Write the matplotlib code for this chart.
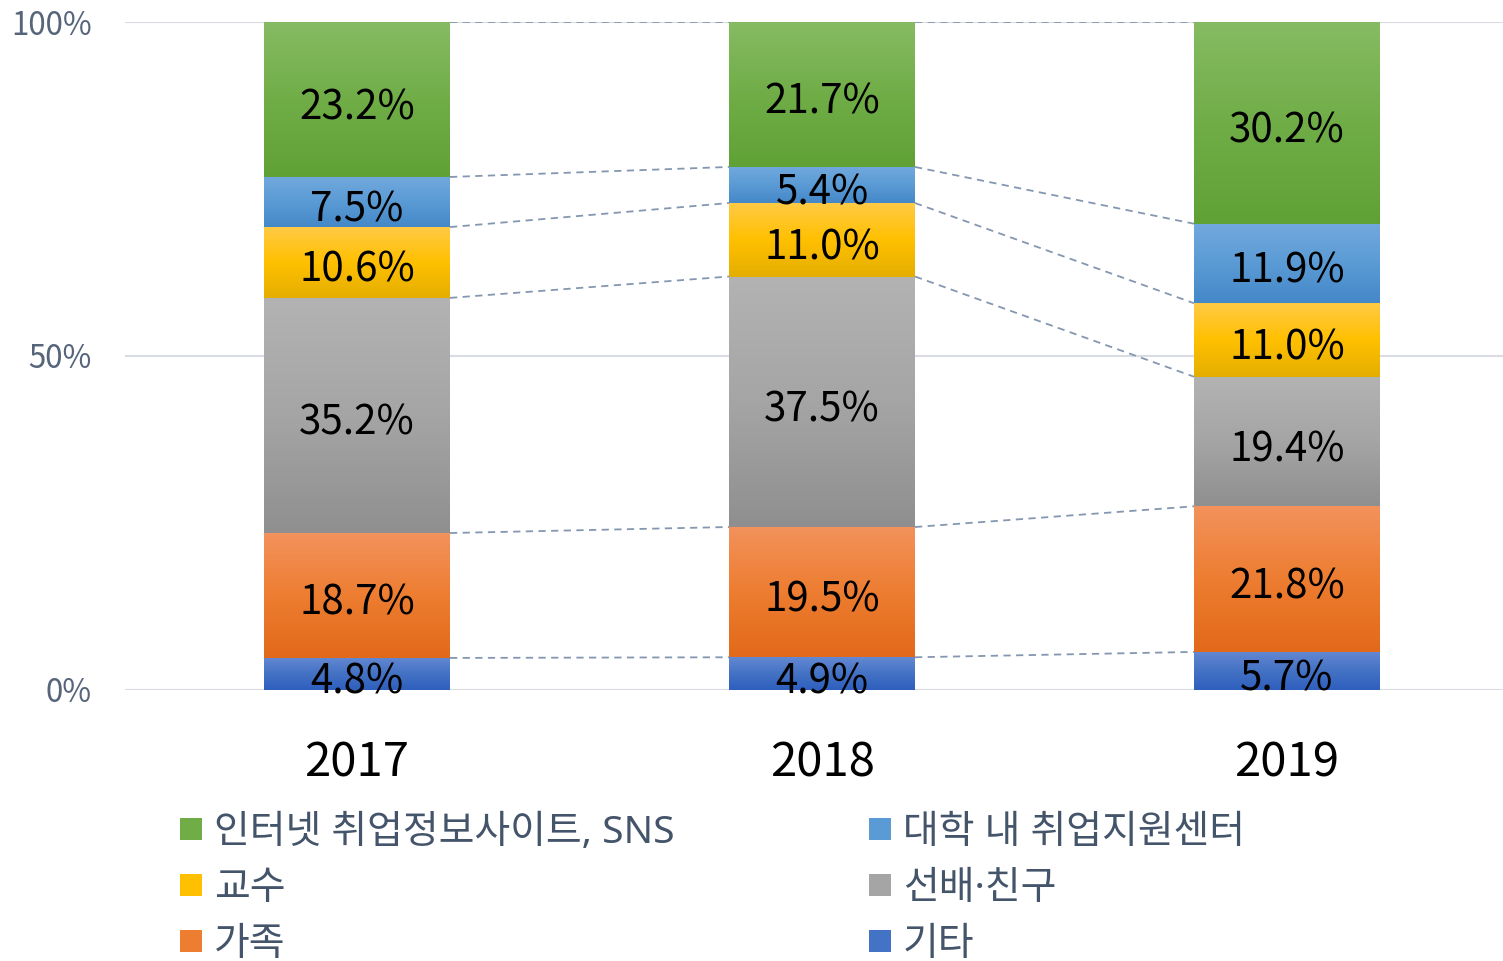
import matplotlib
matplotlib.use("Agg")
import matplotlib.pyplot as plt
import numpy as np
from matplotlib.colors import LinearSegmentedColormap
from matplotlib.patches import Rectangle

plt.rcParams['font.family'] = ['Noto Sans CJK KR', 'DejaVu Sans']

# ---- data ----
years = ['2017', '2018', '2019']
series_names = ['기타', '가족', '선배·친구', '교수', '대학 내 취업지원센터', '인터넷 취업정보사이트, SNS']
etc_vals = [4.8, 4.9, 5.7]
family_vals = [18.7, 19.5, 21.8]
senior_vals = [35.2, 37.5, 19.4]
prof_vals = [10.6, 11.0, 11.0]
center_vals = [7.5, 5.4, 11.9]
internet_vals = [23.2, 21.7, 30.2]
yticks = [0, 50, 100]
ytick_labels = ['0%', '50%', '100%']

series_vals = [etc_vals, family_vals, senior_vals, prof_vals, center_vals, internet_vals]
# gradient stops (top, middle, bottom)
grad_colors = [
    ('#6488d3', '#4472c4', '#2e5fbe'),
    ('#f3925c', '#ed7d31', '#e2691a'),
    ('#b3b3b3', '#a5a5a5', '#8f8f8f'),
    ('#ffca45', '#ffc000', '#e4ae00'),
    ('#72a9de', '#5b9bd5', '#4488c8'),
    ('#86bb63', '#70ad47', '#60a135'),
]

W, H = 1503, 961
fig = plt.figure(figsize=(W / 100, H / 100), dpi=100)
ax = fig.add_axes([124.5 / W, (H - 690) / H, 1395 / W, 668 / H])

x = np.arange(len(years))
bar_w = 0.40
grad = np.linspace(0, 1, 256).reshape(-1, 1)

bottoms = np.zeros(len(years))
tops_list = []
for vals, cols in zip(series_vals, grad_colors):
    vals = np.array(vals)
    bars = ax.bar(x, vals, bar_w, bottom=bottoms, color=cols[1], zorder=2, linewidth=0)
    cmap = LinearSegmentedColormap.from_list('g', [cols[0], cols[1], cols[2]])
    for rect in bars:
        x0, y0 = rect.get_x(), rect.get_y()
        im = ax.imshow(grad, extent=(x0, x0 + rect.get_width(), y0, y0 + rect.get_height()),
                       cmap=cmap, aspect='auto', zorder=3, interpolation='bilinear',
                       origin='upper')
        im.set_clip_path(rect)
    for xi, b, v in zip(x, bottoms, vals):
        ax.text(xi, b + v / 2 - 1.2, f'{v:.1f}%', ha='center', va='center',
                fontsize=29, color='black', zorder=5)
    bottoms = bottoms + vals
    tops_list.append(bottoms.copy())

# connector lines
for tops in tops_list:
    for i in range(len(years) - 1):
        ax.plot([x[i] + bar_w / 2, x[i + 1] - bar_w / 2], [tops[i], tops[i + 1]],
                ls=(0, (4, 3)), color='#8497b0', lw=1.3, zorder=1)

ax.set_xlim(-0.5, 2.5)
ax.set_ylim(0, 100)
ax.set_yticks(yticks)
ax.set_yticklabels(ytick_labels, fontsize=22.5, color='#56657a')
ax.set_xticks(x)
ax.set_xticklabels(years, fontsize=34, color='black')
ax.tick_params(axis='y', length=0, pad=23.5)
ax.tick_params(axis='x', length=0, pad=35)
ax.yaxis.grid(True, color='#d9dde3', lw=1.5, zorder=0)
ax.set_axisbelow(True)
for s in ax.spines.values():
    s.set_visible(False)

# legend (manual, two columns)
legend_order = [5, 3, 1, 4, 2, 0]
col_x = [180, 869]
row_y = [829, 885, 941]
for k, idx in enumerate(legend_order):
    cx = col_x[k // 3]
    cy = row_y[k % 3]
    fig.patches.append(Rectangle((cx / W, (H - cy - 11) / H), 22 / W, 22 / H,
                                 transform=fig.transFigure, facecolor=grad_colors[idx][1],
                                 edgecolor='none'))
    fig.text((cx + 34) / W, (H - cy - 4) / H, series_names[idx], fontsize=28,
             color='#44546a', ha='left', va='center',
             family=['Noto Sans', 'Noto Sans CJK KR'])

fig.savefig('out.png', dpi=100)
